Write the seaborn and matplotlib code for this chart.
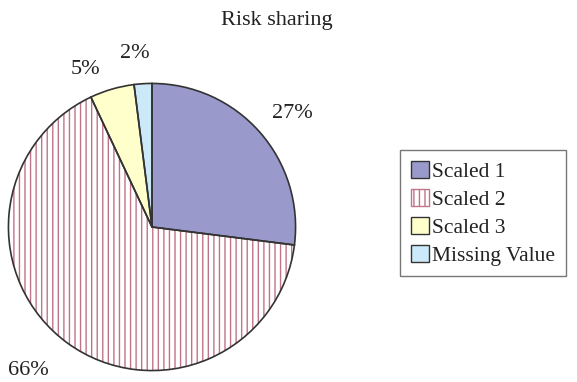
"""
Risk sharing - pie chart of scaled responses
"""

import matplotlib
matplotlib.use("Agg")
import matplotlib.pyplot as plt
from matplotlib.patches import Patch
import seaborn as sns

# data
categories = ["Scaled 1", "Scaled 2", "Scaled 3", "Missing Value"]
shares = [27, 66, 5, 2]
fill_colors = ["#9999cc", "#ffffff", "#ffffcc", "#cce9f9"]
hatches = ["", "|||", "", ""]

# where the percent labels sit (pie radius units)
label_pos = [(0.98, 0.79), (-0.86, -1.0), (-0.46, 1.10), (-0.12, 1.21)]

sns.set_theme(style="white")
plt.rcParams['font.family'] = ['Liberation Serif', 'DejaVu Serif']
plt.rcParams['hatch.linewidth'] = 1.0

fig = plt.figure(figsize=(5.77, 3.82), dpi=100)
ax = fig.add_axes([7 / 577, 10 / 382, 290 / 577, 290 / 382])

# first pass: fills and hatches (hatch colour follows edgecolor)
wedges, _ = ax.pie(shares, colors=fill_colors, startangle=90, counterclock=False,
                   wedgeprops=dict(edgecolor="#bf7489", linewidth=0))
for w, h in zip(wedges, hatches):
    w.set_hatch(h)

# second pass: dark outlines and percent labels
outline, _, pcts = ax.pie(shares, colors=["none"] * 4, startangle=90, counterclock=False,
                          autopct="%d%%", pctdistance=1.24,
                          wedgeprops=dict(edgecolor="#333333", linewidth=1.2),
                          textprops=dict(fontsize=16, color="#222222"))
for t, p in zip(pcts, label_pos):
    t.set_position(p)
ax.set_xlim(-1.01, 1.01)
ax.set_ylim(-1.01, 1.01)

fig.text(277 / 577, 1 - 20 / 382, "Risk sharing", ha="center", va="center",
         fontsize=16, color="#222222")

handles = [Patch(facecolor=c, edgecolor="#333333" if not h else "#bf7489", hatch=h, linewidth=1)
           for c, h in zip(fill_colors, hatches)]
leg = fig.legend(handles, categories, loc="upper left", bbox_to_anchor=(400 / 577, 1 - 150 / 382),
                 fontsize=15.5, frameon=True, fancybox=False, handlelength=0.85, handleheight=0.85,
                 handletextpad=0.15, borderpad=0.5, labelspacing=0.32, borderaxespad=0)
leg.get_frame().set_edgecolor("#555555")
leg.get_frame().set_linewidth(1)
for t in leg.get_texts():
    t.set_color("#222222")

fig.savefig("out.png", dpi=100)
